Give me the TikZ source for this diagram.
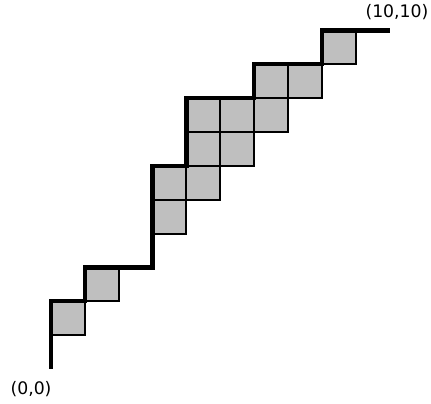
\documentclass[tikz,border=0pt]{standalone}
\usepackage{fontspec}
\setmainfont{DejaVu Sans}
\usepackage{tikz}
\usetikzlibrary{positioning}

\begin{document}
\begin{tikzpicture}[
    font=\fontsize{14.5}{16}\selectfont,
    cell/.style={draw, fill=black!25, line width=1.7pt},
    stairs/.style={line width=3.6pt, line join=miter},
    corner/.style={inner sep=0pt}
]
\useasboundingbox (-1.507,-1.034) rectangle (11.226,10.901);
\foreach \x/\y in {0/1,1/2,3/4,3/5,4/5,4/6,4/7,5/6,5/7,6/7,6/8,7/8,8/9}
    \draw[cell] (\x,\y) rectangle ++(1,1);
\coordinate (start) at (0,0);
\coordinate (end) at (10,10);
\draw[stairs] (start) |- (1,2) |- (3,3) |- (4,6) |- (6,8) |- (8,9) |- (end);
\node[corner] (startlabel) at (-0.59,-0.6) {(0,0)};
\node[corner] (endlabel) at (10.22,10.55) {(10,10)};
\end{tikzpicture}
\end{document}
